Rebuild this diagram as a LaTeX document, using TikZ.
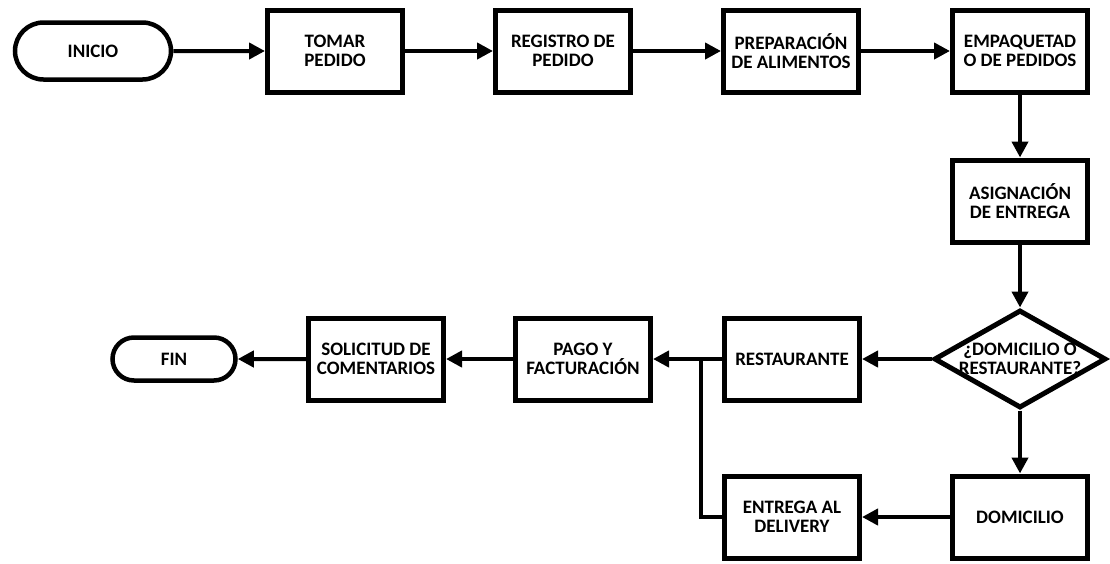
\documentclass[tikz,border=0pt]{standalone}
\usepackage{fontspec}
\newfontfamily\flowfont{Carlito}
\usetikzlibrary{arrows.meta,shapes.geometric,shapes.misc}

\tikzset{
  txt/.style={font=\flowfont\bfseries\fontsize{19}{19.5}\selectfont, align=center},
  stepbox/.style={txt, draw, line width=5pt, rectangle, minimum width=135pt,
    minimum height=82pt, inner sep=1pt},
  term/.style={txt, draw, line width=4.5pt, rounded rectangle, inner sep=1pt},
  decision/.style={draw, line width=5pt, diamond, minimum width=172pt,
    minimum height=98pt, inner sep=0pt},
  conn/.style={line width=4pt, -{Triangle[length=16pt,width=16pt]}},
  plainconn/.style={line width=4pt}
}

\begin{document}
\begin{tikzpicture}[x=1pt,y=-1pt]
  \useasboundingbox (0,0) rectangle (1110,563);

  % top row
  \node[term, minimum width=158pt, minimum height=57pt] (inicio) at (93,51) {INICIO};
  \node[stepbox] (tomar) at (335,51) {TOMAR\\PEDIDO};
  \node[stepbox] (registro) at (563,51) {REGISTRO DE\\PEDIDO};
  \node[stepbox] (prep) at (791,51) {PREPARACIÓN\\DE ALIMENTOS};
  \node[stepbox] (empaq) at (1020,51) {EMPAQUETAD\\O DE PEDIDOS};

  % right column
  \node[stepbox] (asign) at (1020,201) {ASIGNACIÓN\\DE ENTREGA};
  \node[decision, label={[txt]center:¿DOMICILIO O\\RESTAURANTE?}] (dec) at (1020,359) {};
  \node[stepbox] (domicilio) at (1020,517) {DOMICILIO};

  % bottom rows
  \node[stepbox] (restaurante) at (792,359) {RESTAURANTE};
  \node[stepbox] (entrega) at (792,517) {ENTREGA AL\\DELIVERY};
  \node[stepbox] (pago) at (583,359) {PAGO Y\\FACTURACIÓN};
  \node[stepbox] (solicitud) at (376,359) {SOLICITUD DE\\COMENTARIOS};
  \node[term, minimum width=125pt, minimum height=43pt] (fin) at (174,359) {FIN};

  \coordinate (junta) at (701,359);
  \coordinate (esquina) at (701,517);

  % connectors
  \draw[conn] (inicio) -- (tomar);
  \draw[conn] (tomar) -- (registro);
  \draw[conn] (registro) -- (prep);
  \draw[conn] (prep) -- (empaq);
  \draw[conn] (empaq) -- (asign);
  \draw[conn] (asign) -- (dec);
  \draw[conn] (dec) -- (restaurante);
  \draw[conn] (dec) -- (domicilio);
  \draw[conn] (domicilio) -- (entrega);
  \draw[conn] (restaurante) -- (pago);
  \draw[plainconn, line join=miter] (entrega.west) -- (esquina) -- ([yshift=2pt]junta);
  \draw[conn] (pago) -- (solicitud);
  \draw[conn] (solicitud) -- (fin);
\end{tikzpicture}
\end{document}
